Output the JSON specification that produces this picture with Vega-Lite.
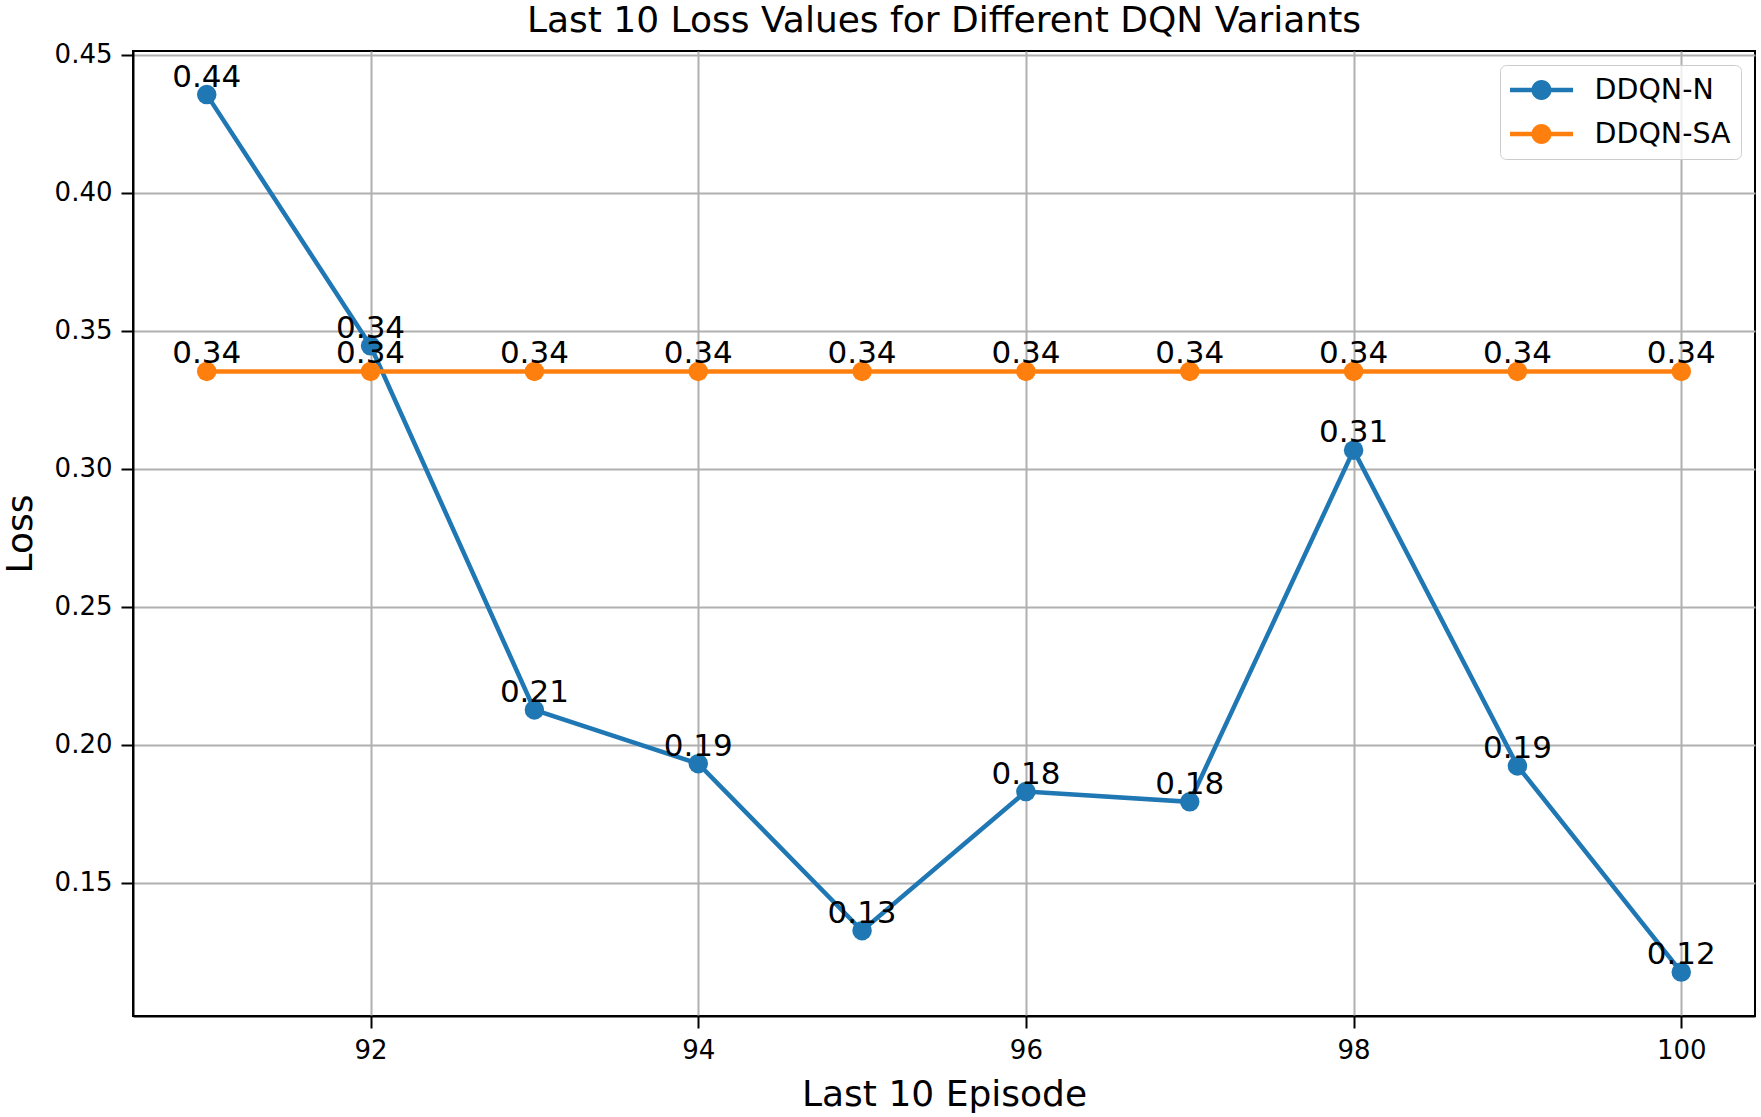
{
  "$schema": "https://vega.github.io/schema/vega-lite/v6.json",
  "width": 1622,
  "height": 965,
  "autosize": {"type": "none"},
  "padding": {"left": 133, "top": 51, "right": 6, "bottom": 101},
  "background": "white",
  "config": {
    "font": "DejaVu Sans",
    "view": {"stroke": "black", "strokeWidth": 2},
    "axis": {
      "domainColor": "black", "domainWidth": 2,
      "tickColor": "black", "tickWidth": 2, "tickSize": 12,
      "gridColor": "#b0b0b0", "gridWidth": 2,
      "labelFont": "DejaVu Sans", "labelFontSize": 26, "labelColor": "black", "labelPadding": 9,
      "titleFont": "DejaVu Sans", "titleFontSize": 36, "titleFontWeight": "normal", "titleColor": "black"
    },
    "legend": {
      "labelFont": "DejaVu Sans", "labelFontSize": 28.5, "labelColor": "black"
    }
  },
  "title": {
    "text": "Last 10 Loss Values for Different DQN Variants",
    "font": "DejaVu Sans", "fontSize": 36, "fontWeight": "normal", "color": "black",
    "anchor": "middle", "offset": 2
  },
  "data": {
    "values": [
      {"episode": 91, "loss": 0.4355, "model": "DDQN-N"},
      {"episode": 92, "loss": 0.3445, "model": "DDQN-N"},
      {"episode": 93, "loss": 0.2126, "model": "DDQN-N"},
      {"episode": 94, "loss": 0.1931, "model": "DDQN-N"},
      {"episode": 95, "loss": 0.1326, "model": "DDQN-N"},
      {"episode": 96, "loss": 0.183, "model": "DDQN-N"},
      {"episode": 97, "loss": 0.1793, "model": "DDQN-N"},
      {"episode": 98, "loss": 0.3067, "model": "DDQN-N"},
      {"episode": 99, "loss": 0.1923, "model": "DDQN-N"},
      {"episode": 100, "loss": 0.1176, "model": "DDQN-N"},
      {"episode": 91, "loss": 0.3352, "model": "DDQN-SA"},
      {"episode": 92, "loss": 0.3352, "model": "DDQN-SA"},
      {"episode": 93, "loss": 0.3352, "model": "DDQN-SA"},
      {"episode": 94, "loss": 0.3352, "model": "DDQN-SA"},
      {"episode": 95, "loss": 0.3352, "model": "DDQN-SA"},
      {"episode": 96, "loss": 0.3352, "model": "DDQN-SA"},
      {"episode": 97, "loss": 0.3352, "model": "DDQN-SA"},
      {"episode": 98, "loss": 0.3352, "model": "DDQN-SA"},
      {"episode": 99, "loss": 0.3352, "model": "DDQN-SA"},
      {"episode": 100, "loss": 0.3352, "model": "DDQN-SA"}
    ]
  },
  "encoding": {
    "x": {
      "field": "episode", "type": "quantitative",
      "scale": {"domain": [90.55, 100.45], "nice": false, "zero": false},
      "axis": {"title": "Last 10 Episode", "values": [92, 94, 96, 98, 100], "format": "d", "titlePadding": 14}
    },
    "y": {
      "field": "loss", "type": "quantitative",
      "scale": {"domain": [0.1017, 0.4513], "nice": false, "zero": false},
      "axis": {"title": "Loss", "values": [0.15, 0.2, 0.25, 0.3, 0.35, 0.4, 0.45], "format": ".2f", "titlePadding": 15}
    },
    "color": {
      "field": "model", "type": "nominal",
      "scale": {"domain": ["DDQN-N", "DDQN-SA"], "range": ["#1f77b4", "#ff7f0e"]},
      "legend": {
        "title": null,
        "orient": "top-right",
        "offset": 14,
        "padding": 10,
        "fillColor": "rgba(255,255,255,0.8)",
        "strokeColor": "#cccccc",
        "cornerRadius": 6,
        "symbolType": "M-2.1,-0.147 L-0.4,-0.147 L-0.4,0.147 L-2.1,0.147 Z M0.4,-0.147 L2.1,-0.147 L2.1,0.147 L0.4,0.147 Z M-0.67,0 A0.67,0.67 0 1,1 0.67,0 A0.67,0.67 0 1,1 -0.67,0 Z",
        "symbolSize": 900,
        "symbolOffset": 16.5,
        "symbolStrokeWidth": 0,
        "rowPadding": 14,
        "labelOffset": 38,
        "encode": {
          "symbols": {"update": {"fill": {"scale": "color", "field": "value"}, "stroke": {"value": "transparent"}, "opacity": {"value": 1}}}
        }
      }
    }
  },
  "layer": [
    {"mark": {"type": "line", "strokeWidth": 4.5}},
    {"mark": {"type": "point", "filled": true, "size": 380, "opacity": 1}},
    {
      "mark": {"type": "text", "fontSize": 31, "font": "DejaVu Sans", "color": "black", "baseline": "alphabetic", "dy": -8},
      "encoding": {
        "text": {"field": "loss", "format": ".2f"},
        "color": {"value": "black"}
      }
    }
  ]
}
